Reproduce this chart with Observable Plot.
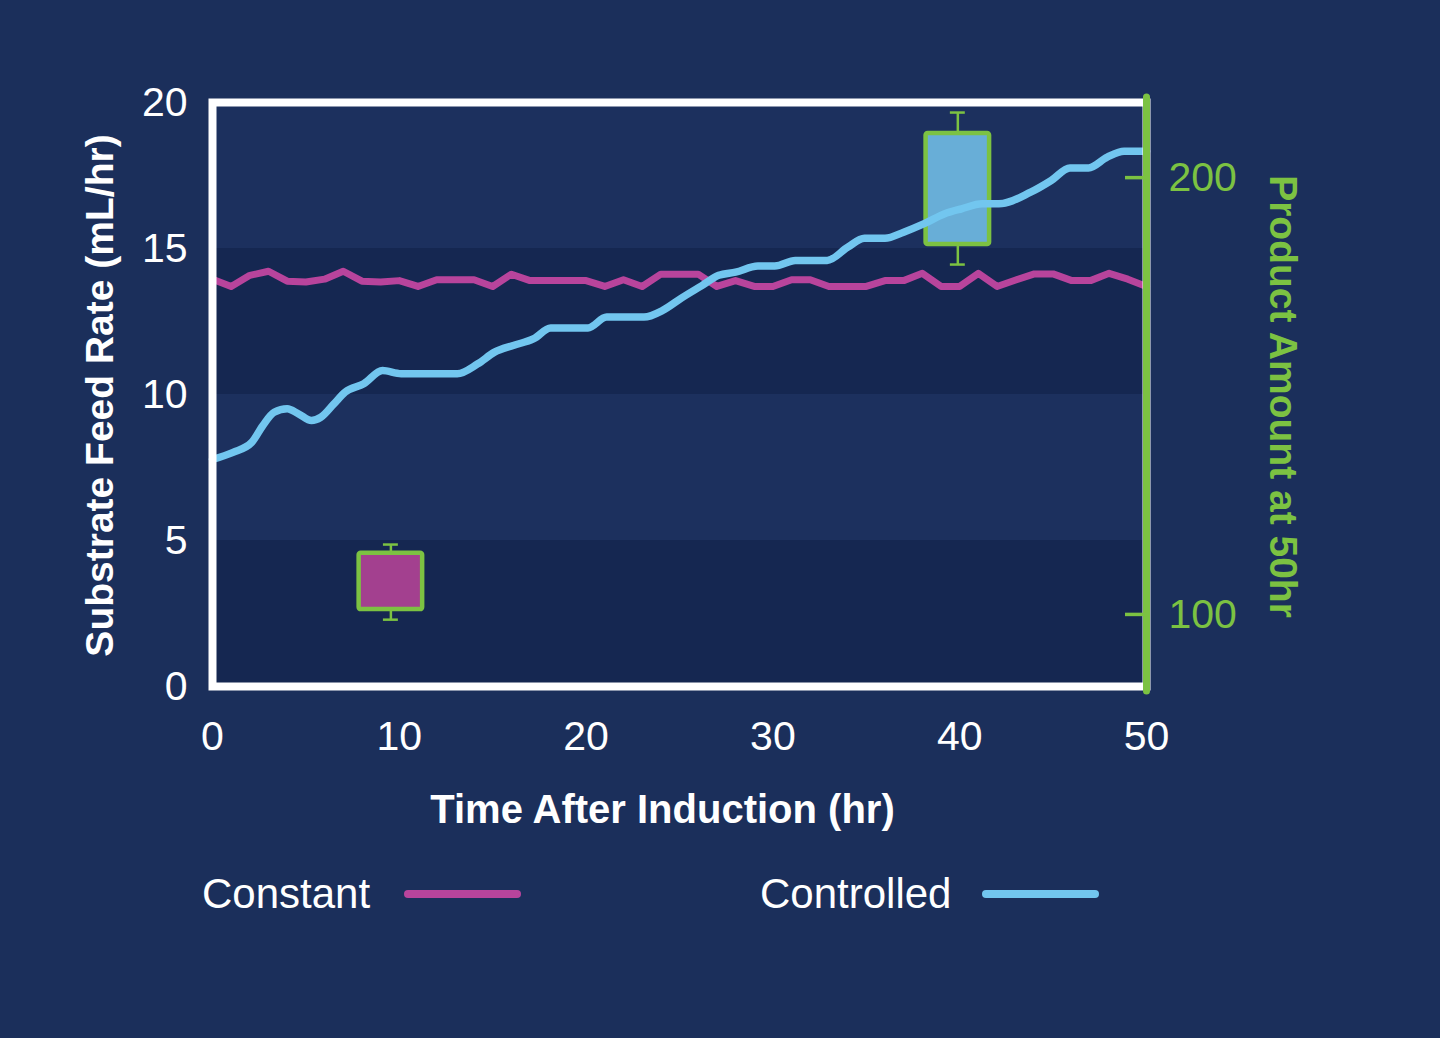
<!DOCTYPE html>
<html><head><meta charset="utf-8">
<script src="https://cdn.jsdelivr.net/npm/d3@7"></script>
<script src="https://cdn.jsdelivr.net/npm/@observablehq/plot@0.6"></script>
<style>
html,body{margin:0;padding:0;background:#1b2f5b;}
body{width:1440px;height:1038px;overflow:hidden;font-family:"Liberation Sans",Arial,Helvetica,sans-serif;}
#chart svg{display:block;}
#legend{position:relative;height:160px;color:#fff;font-size:42px;}
.lt{position:absolute;top:10px;line-height:48px;}
.sw{position:absolute;top:30px;width:117px;height:8px;border-radius:4px;}
</style></head><body>
<div id="chart"></div>
<div id="legend"></div>
<script>
// ---- data ----
const constantTime = [0,1,2,3,4,5,6,7,8,9,10,11,12,13,14,15,16,17,18,19,20,21,22,23,24,25,26,27,28,29,30,31,32,33,34,35,36,37,38,39,40,41,42,43,44,45,46,47,48,49,50];
const constantRate = [13.95,13.7,14.08,14.22,13.88,13.85,13.95,14.22,13.88,13.85,13.9,13.7,13.93,13.93,13.93,13.7,14.12,13.9,13.9,13.9,13.9,13.7,13.93,13.7,14.12,14.12,14.12,13.7,13.9,13.7,13.7,13.93,13.93,13.7,13.7,13.7,13.9,13.9,14.15,13.7,13.7,14.15,13.7,13.92,14.13,14.13,13.9,13.9,14.15,13.95,13.7];
const controlledTime = [0,1.1,2.1,2.7,3.3,4,4.6,5.3,5.8,6.5,7.1,8.1,9.1,10.1,13.1,14.2,15.1,16.1,17.2,18.1,20.1,21.1,23.1,24.1,25.1,26.2,27.1,28,29.2,30.1,31.2,32.9,34,34.9,36,37,38.1,39.2,40.1,41.2,42.1,43.8,44.9,45.9,46.9,47.9,48.8,50];
const controlledRate = [7.78,8.02,8.36,8.94,9.39,9.51,9.34,9.11,9.22,9.68,10.08,10.37,10.82,10.71,10.71,11.05,11.45,11.68,11.91,12.28,12.28,12.65,12.65,12.88,13.3,13.73,14.08,14.19,14.4,14.4,14.59,14.59,15.04,15.35,15.35,15.56,15.85,16.19,16.36,16.53,16.53,16.93,17.33,17.76,17.76,18.13,18.33,18.33];
const boxGroups = ["Constant","Controlled"];
const boxTime = [9.55, 39.9];
const boxQ1 = [101.1, 184.7];
const boxQ3 = [114.0, 210.1];
const boxMin = [98.8, 180.1];
const boxMax = [116.0, 214.9];
const xTicks = [0,10,20,30,40,50];
const yTicks = [0,5,10,15,20];
const productTicks = [100,200];
const productDomain = [83.5, 217.2];
const bandLo = [0,5,10,15];
const bandHi = [5,10,15,20];
const legendLabels = ["Constant","Controlled"];

// ---- style ----
const PINK = "#b8449c", BLUE = "#72c6ef", GREEN = "#7cc242";
const BOXFILL = {Constant: "#a3408f", Controlled: "#68aed7"};
const BAND = ["#152751","#1c305e","#152751","#1c305e"];
const FONT = '"Liberation Sans", Arial, Helvetica, sans-serif';

// right-axis mapping (product amount -> feed-rate units)
const y2 = d3.scaleLinear(productDomain, [0, 20]);

const constantData = constantTime.map((t,i) => ({t, v: constantRate[i]}));
const controlledData = controlledTime.map((t,i) => ({t, v: controlledRate[i]}));
const bands = bandLo.map((lo,i) => ({lo, hi: bandHi[i], c: BAND[i]}));
const boxes = boxGroups.map((g,i) => ({g, t: boxTime[i], q1: boxQ1[i], q3: boxQ3[i], lo: boxMin[i], hi: boxMax[i]}));
const HALF = 1.7, CAP = 0.4;

const chart = Plot.plot({
  width: 1440, height: 860,
  marginLeft: 212, marginRight: 294, marginTop: 102, marginBottom: 174,
  style: {background: "transparent", fontFamily: FONT, color: "#fff"},
  x: {domain: [0, 50]},
  y: {domain: [0, 20]},
  marks: [
    Plot.rect(bands, {y1: "lo", y2: "hi", fill: "c"}),
    Plot.rect(boxes, {x1: d => d.t - HALF, x2: d => d.t + HALF, y1: d => y2(d.q1), y2: d => y2(d.q3),
      fill: d => BOXFILL[d.g], stroke: GREEN, strokeWidth: 4.5, rx: 2}),
    Plot.ruleX(boxes, {x: "t", y1: d => y2(d.q3), y2: d => y2(d.hi), stroke: GREEN, strokeWidth: 2.5}),
    Plot.ruleX(boxes, {x: "t", y1: d => y2(d.q1), y2: d => y2(d.lo), stroke: GREEN, strokeWidth: 2.5}),
    Plot.ruleY(boxes, {y: d => y2(d.hi), x1: d => d.t - CAP, x2: d => d.t + CAP, stroke: GREEN, strokeWidth: 2.5}),
    Plot.ruleY(boxes, {y: d => y2(d.lo), x1: d => d.t - CAP, x2: d => d.t + CAP, stroke: GREEN, strokeWidth: 2.5}),
    Plot.line(constantData, {x: "t", y: "v", stroke: PINK, strokeWidth: 7, strokeLinejoin: "round"}),
    Plot.line(controlledData, {x: "t", y: "v", stroke: BLUE, strokeWidth: 7.5, strokeLinejoin: "round", curve: "monotone-x"}),
    Plot.frame({stroke: "#fff", strokeWidth: 8}),
    Plot.ruleX([50], {stroke: GREEN, strokeWidth: 7, insetTop: -5, insetBottom: -5, strokeLinecap: "round"}),
    Plot.axisX(xTicks, {tickSize: 0, tickPadding: 34, fontSize: 41, fill: "#fff", label: null}),
    Plot.axisY(yTicks, {anchor: "left", tickSize: 0, tickPadding: 25, fontSize: 41, fill: "#fff", label: null}),
    Plot.axisY(productTicks, {y: y2, anchor: "right", tickSize: -22, tickPadding: 44, stroke: GREEN, strokeWidth: 3.5,
      fill: GREEN, fontSize: 41, label: null}),
    Plot.text(["Time After Induction (hr)"], {frameAnchor: "bottom", text: d => d, dx: -17, dy: 136,
      fill: "#fff", fontSize: 40, fontWeight: "bold", textAnchor: "middle"}),
    Plot.text(["Substrate Feed Rate (mL/hr)"], {frameAnchor: "left", text: d => d, rotate: -90, dx: -112, dy: 1,
      fill: "#fff", fontSize: 39, fontWeight: "bold", textAnchor: "middle"}),
    Plot.text(["Product Amount at 50hr"], {frameAnchor: "right", text: d => d, rotate: 90, dx: 136, dy: 2,
      fill: GREEN, fontSize: 39, fontWeight: "bold", textAnchor: "middle"})
  ]
});
document.getElementById("chart").appendChild(chart);

// legend
const legendColors = [PINK, BLUE];
const textLeft = [202, 760], swatchLeft = [404, 982];
const leg = document.getElementById("legend");
legendLabels.forEach((label, i) => {
  const s = document.createElement("div"); s.className = "lt"; s.textContent = label; s.style.left = textLeft[i] + "px";
  const w = document.createElement("div"); w.className = "sw"; w.style.background = legendColors[i]; w.style.left = swatchLeft[i] + "px";
  leg.appendChild(s); leg.appendChild(w);
});
</script>
</body></html>
